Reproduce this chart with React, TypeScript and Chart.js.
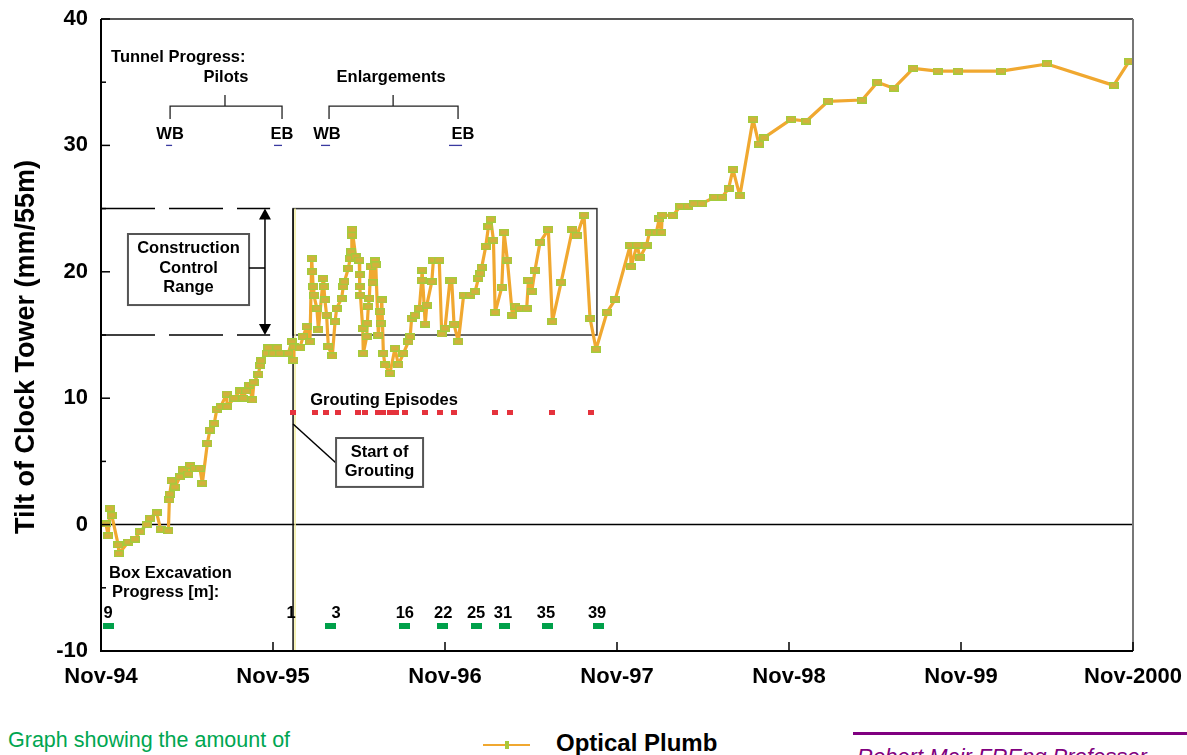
import React, { useEffect, useRef } from 'react';
import { Chart, registerables } from 'chart.js';

Chart.register(...registerables);

const FONT = '"Liberation Sans", Arial, Helvetica, sans-serif';

// x axis: months after Nov-94
const xTickLabels = ['Nov-94', 'Nov-95', 'Nov-96', 'Nov-97', 'Nov-98', 'Nov-99', 'Nov-2000'];
const yTitle = 'Tilt of Clock Tower (mm/55m)';

const plumbMonths = [
  0.35, 0.5, 0.63, 0.75, 1.2, 1.25, 1.9, 2.37, 2.72, 3.19,
  3.41, 3.88, 4.16, 4.7, 4.77, 4.8, 4.93, 5.16, 5.51, 5.7,
  6.09, 6.2, 6.55, 6.9, 7.07, 7.42, 7.6, 7.9, 8.07, 8.35,
  8.77, 8.8, 9.28, 9.7, 9.93, 10.12, 10.35, 10.56, 10.67, 10.98,
  11.1, 11.15, 11.56, 11.68, 12.02, 12.3, 12.49, 13.07, 13.3, 13.42,
  13.45, 13.88, 14.1, 14.35, 14.58, 14.7, 14.75, 14.8, 14.85, 15.06,
  15.17, 15.5, 15.55, 15.62, 15.74, 15.86, 16.14, 16.33, 16.44, 16.79,
  16.9, 16.98, 17.26, 17.38, 17.45, 17.5, 17.52, 17.77, 18.02, 18.04,
  18.06, 18.1, 18.26, 18.3, 18.54, 18.58, 18.65, 18.72, 18.82, 18.96,
  19.12, 19.17, 19.35, 19.47, 19.5, 19.59, 19.7, 19.81, 20.16, 20.51,
  20.75, 21.1, 21.45, 21.57, 21.67, 21.91, 22.21, 22.37, 22.4, 22.62,
  22.73, 23.08, 23.19, 23.6, 23.77, 24.0, 24.35, 24.47, 24.63, 24.93,
  25.3, 25.75, 26.1, 26.33, 26.45, 26.56, 26.84, 27.03, 27.19, 27.38,
  27.5, 27.96, 28.12, 28.35, 28.7, 28.9, 29.23, 29.7, 29.82, 30.05,
  30.28, 30.63, 31.21, 31.49, 32.1, 32.89, 33.2, 33.7, 34.12, 34.54,
  35.3, 35.88, 36.93, 36.98, 37.4, 37.6, 38.06, 38.27, 38.75, 38.94,
  39.1, 39.15, 39.88, 40.43, 40.96, 41.37, 41.91, 42.8, 43.33, 43.79,
  44.09, 44.57, 45.49, 45.9, 46.27, 48.14, 49.22, 50.72, 53.1, 54.17,
  55.3, 56.67, 58.37, 59.8, 62.8, 66.0, 70.65, 71.73,
];

const plumbTilt = [
  0.05, -0.9, 1.3, 0.74, -1.6, -2.3, -1.38, -1.14, -0.56, 0.0,
  0.5, 0.94, -0.37, -0.5, 1.95, 2.42, 3.47, 2.97, 3.79, 4.32,
  4.0, 4.7, 4.45, 4.45, 3.27, 6.43, 7.48, 8.0, 9.07, 9.33,
  10.33, 9.33, 10.0, 10.57, 10.0, 10.57, 11.04, 9.86, 11.26, 11.9,
  12.6, 12.97, 13.55, 14.0, 13.55, 14.0, 13.55, 13.55, 14.47, 13.0,
  14.07, 14.0, 14.87, 15.66, 14.47, 21.07, 20.0, 18.82, 18.16, 17.11,
  15.4, 19.48, 18.82, 17.77, 16.58, 14.07, 13.34, 16.05, 17.11, 17.9,
  18.82, 19.22, 20.28, 21.07, 21.59, 22.91, 23.36, 21.2, 20.93, 19.75,
  18.82, 18.16, 15.53, 13.55, 14.87, 15.93, 17.24, 17.9, 20.4, 19.14,
  20.88, 20.54, 15.0, 16.84, 15.93, 17.77, 13.55, 12.63, 11.97, 13.95,
  12.63, 13.55, 14.47, 14.87, 16.32, 16.58, 17.11, 19.35, 20.14, 15.87,
  17.37, 19.22, 20.93, 20.93, 15.08, 15.53, 19.35, 19.3, 15.85, 14.47,
  18.16, 18.16, 18.43, 19.48, 19.88, 20.35, 21.98, 23.57, 24.15, 22.5,
  16.79, 18.77, 23.12, 20.93, 16.58, 17.29, 17.11, 17.11, 19.35, 18.43,
  20.14, 22.33, 23.36, 16.05, 19.17, 23.36, 22.86, 24.49, 16.32, 13.87,
  16.79, 17.82, 22.12, 20.4, 22.12, 21.12, 22.12, 23.12, 23.12, 24.18,
  23.12, 24.49, 24.44, 25.18, 25.18, 25.39, 25.39, 25.9, 25.9, 26.6,
  28.1, 26.0, 32.06, 30.1, 30.61, 32.06, 31.93, 33.49, 33.59, 34.99,
  34.52, 36.1, 35.88, 35.88, 35.88, 36.44, 34.75, 36.65,
];

const groutingMonths = [13.4, 14.93, 15.7, 16.54, 17.93, 18.42, 19.33, 19.68, 20.17, 20.59, 21.21, 22.61, 23.66, 24.63, 27.5, 28.54, 31.47, 34.19];
const groutingLevel = 8.9;

const excavationMonths = [0.49, 15.98, 21.14, 23.8, 26.17, 28.12, 31.12, 34.68];
const excavationLevel = -8.0;
const excavationLabelMonths = [0.49, 13.26, 16.4, 21.2, 23.87, 26.17, 28.05, 31.05, 34.61];
const excavationLabels = ['9', '1', '3', '16', '22', '25', '31', '35', '39'];

const controlRange = [15, 25];
const groutingStartMonth = 13.4;
const controlBoxEndMonth = 34.6;

function rectImage(w: number, h: number, fill: string, stroke?: string, lw = 1) {
  const c = document.createElement('canvas');
  c.width = w;
  c.height = h;
  const g = c.getContext('2d')!;
  g.fillStyle = stroke || fill;
  g.fillRect(0, 0, w, h);
  if (stroke) {
    g.fillStyle = fill;
    g.fillRect(lw, lw, w - 2 * lw, h - 2 * lw);
  }
  return c;
}

const annotPlugin = {
  id: 'annot',
  beforeDatasetsDraw(chart: any) {
    const { ctx, scales, chartArea: a } = chart;
    const X = (m: number) => scales.x.getPixelForValue(m);
    const Y = (v: number) => scales.y.getPixelForValue(v);
    ctx.save();
    // zero line
    ctx.strokeStyle = '#000';
    ctx.lineWidth = 1.5;
    ctx.beginPath();
    ctx.moveTo(a.left, Y(0));
    ctx.lineTo(a.right, Y(0));
    ctx.stroke();

    // dashed control range lines
    ctx.setLineDash([54, 14]);
    ctx.lineWidth = 1.5;
    for (const v of controlRange) {
      ctx.beginPath();
      ctx.moveTo(a.left, Y(v));
      ctx.lineTo(X(11.8), Y(v));
      ctx.stroke();
    }
    ctx.setLineDash([]);

    // control box
    ctx.strokeStyle = '#333';
    ctx.lineWidth = 1.5;
    ctx.strokeRect(X(groutingStartMonth), Y(controlRange[1]), X(controlBoxEndMonth) - X(groutingStartMonth), Y(controlRange[0]) - Y(controlRange[1]));

    // start of grouting vertical line
    ctx.strokeStyle = '#f3eea0';
    ctx.lineWidth = 1.5;
    ctx.beginPath();
    ctx.moveTo(X(groutingStartMonth) + 2, Y(controlRange[1]));
    ctx.lineTo(X(groutingStartMonth) + 2, a.bottom);
    ctx.stroke();
    ctx.strokeStyle = '#111';
    ctx.beginPath();
    ctx.moveTo(X(groutingStartMonth), Y(controlRange[1]));
    ctx.lineTo(X(groutingStartMonth), a.bottom);
    ctx.stroke();
    ctx.restore();
  },
  afterDatasetsDraw(chart: any) {
    const { ctx, scales, chartArea: a } = chart;
    const X = (m: number) => scales.x.getPixelForValue(m);
    const Y = (v: number) => scales.y.getPixelForValue(v);
    ctx.save();
    ctx.fillStyle = '#000';
    ctx.textBaseline = 'middle';

    // y axis title
    ctx.save();
    ctx.font = `bold 27px ${FONT}`;
    ctx.textAlign = 'center';
    ctx.translate(27, (a.top + a.bottom) / 2 + 12);
    ctx.rotate(-Math.PI / 2);
    ctx.fillText(yTitle, 0, 0);
    ctx.restore();

    ctx.font = `bold 16.5px ${FONT}`;

    // Tunnel progress
    ctx.textAlign = 'left';
    ctx.fillText('Tunnel Progress:', X(0.7), Y(36.99));
    ctx.textAlign = 'center';
    ctx.fillText('Pilots', X(8.72), Y(35.4));
    ctx.fillText('Enlargements', X(20.24), Y(35.4));
    ctx.fillText('WB', X(4.82), Y(30.9));
    ctx.fillText('EB', X(12.63), Y(30.9));
    ctx.fillText('WB', X(15.77), Y(30.9));
    ctx.fillText('EB', X(25.26), Y(30.9));

    const bracket = (m1: number, m2: number, mc: number) => {
      ctx.strokeStyle = '#222';
      ctx.lineWidth = 1.3;
      ctx.beginPath();
      ctx.moveTo(X(m1), Y(32.09));
      ctx.lineTo(X(m1), Y(33.11));
      ctx.lineTo(X(m2), Y(33.11));
      ctx.lineTo(X(m2), Y(32.09));
      ctx.moveTo(X(mc), Y(33.11));
      ctx.lineTo(X(mc), Y(33.98));
      ctx.stroke();
    };
    bracket(4.82, 12.63, 8.65);
    bracket(15.91, 24.91, 20.38);

    ctx.strokeStyle = '#3a3aa0';
    ctx.lineWidth = 1.3;
    for (const [m1, m2] of [[4.54, 4.96], [12.07, 12.63], [15.35, 15.98], [24.28, 25.19]]) {
      ctx.beginPath();
      ctx.moveTo(X(m1), Y(30));
      ctx.lineTo(X(m2), Y(30));
      ctx.stroke();
    }

    // Construction control range arrow
    const ax = X(11.44);
    ctx.strokeStyle = '#000';
    ctx.lineWidth = 1.5;
    ctx.beginPath();
    ctx.moveTo(ax, Y(controlRange[1]) + 8);
    ctx.lineTo(ax, Y(controlRange[0]) - 8);
    ctx.stroke();
    ctx.beginPath();
    ctx.moveTo(ax, Y(controlRange[1]));
    ctx.lineTo(ax - 6, Y(controlRange[1]) + 11);
    ctx.lineTo(ax + 6, Y(controlRange[1]) + 11);
    ctx.closePath();
    ctx.fill();
    ctx.beginPath();
    ctx.moveTo(ax, Y(controlRange[0]));
    ctx.lineTo(ax - 6, Y(controlRange[0]) - 11);
    ctx.lineTo(ax + 6, Y(controlRange[0]) - 11);
    ctx.closePath();
    ctx.fill();

    // Construction control range box
    const bx1 = X(1.88), bx2 = X(10.33), by1 = Y(22.99), by2 = Y(17.37);
    ctx.fillStyle = '#fff';
    ctx.fillRect(bx1, by1, bx2 - bx1, by2 - by1);
    ctx.strokeStyle = '#555';
    ctx.lineWidth = 2;
    ctx.strokeRect(bx1, by1, bx2 - bx1, by2 - by1);
    ctx.strokeStyle = '#000';
    ctx.lineWidth = 1.5;
    ctx.beginPath();
    ctx.moveTo(bx2, Y(20.3));
    ctx.lineTo(ax, Y(20.3));
    ctx.stroke();
    ctx.fillStyle = '#000';
    ctx.textAlign = 'center';
    const bcx = (bx1 + bx2) / 2;
    ctx.fillText('Construction', bcx, Y(21.81));
    ctx.fillText('Control', bcx, Y(20.3));
    ctx.fillText('Range', bcx, Y(18.8));

    // Grouting episodes
    ctx.fillText('Grouting Episodes', X(19.75), Y(9.86));

    // Start of grouting box
    ctx.strokeStyle = '#000';
    ctx.lineWidth = 1.5;
    ctx.beginPath();
    ctx.moveTo(X(groutingStartMonth), Y(7.96));
    ctx.lineTo(X(16.4), Y(4.87));
    ctx.stroke();
    const sx1 = X(16.4), sx2 = X(22.47), sy1 = Y(6.85), sy2 = Y(2.98);
    ctx.fillStyle = '#fff';
    ctx.fillRect(sx1, sy1, sx2 - sx1, sy2 - sy1);
    ctx.strokeStyle = '#555';
    ctx.lineWidth = 2;
    ctx.strokeRect(sx1, sy1, sx2 - sx1, sy2 - sy1);
    ctx.fillStyle = '#000';
    ctx.fillText('Start of', (sx1 + sx2) / 2, Y(5.74));
    ctx.fillText('Grouting', (sx1 + sx2) / 2, Y(4.24));

    // Box excavation
    ctx.textAlign = 'left';
    ctx.fillText('Box Excavation', X(0.56), Y(-3.83));
    ctx.fillText('Progress [m]:', X(0.77), Y(-5.33));
    ctx.textAlign = 'center';
    excavationLabelMonths.forEach((m, i) => {
      ctx.fillText(excavationLabels[i], X(m), Y(-7.0));
    });

    // frame
    ctx.lineWidth = 2;
    ctx.strokeStyle = '#555';
    ctx.beginPath();
    ctx.moveTo(a.left, a.top);
    ctx.lineTo(a.right, a.top);
    ctx.stroke();
    ctx.strokeStyle = '#777';
    ctx.beginPath();
    ctx.moveTo(a.right, a.top);
    ctx.lineTo(a.right, a.bottom);
    ctx.stroke();
    ctx.strokeStyle = '#000';
    ctx.beginPath();
    ctx.moveTo(a.left, a.top);
    ctx.lineTo(a.left, a.bottom);
    ctx.lineTo(a.right, a.bottom);
    ctx.stroke();

    // inward ticks
    ctx.lineWidth = 1.5;
    for (let v = -10; v <= 40; v += 5) {
      const len = v % 10 === 0 ? 9 : 5;
      ctx.beginPath();
      ctx.moveTo(a.left, Y(v));
      ctx.lineTo(a.left + len, Y(v));
      ctx.stroke();
    }
    for (let m = 0; m <= 72; m += 12) {
      ctx.beginPath();
      ctx.moveTo(X(m), a.bottom);
      ctx.lineTo(X(m), a.bottom - 9);
      ctx.stroke();
    }
    ctx.restore();
  },
};

export default function App() {
  const ref = useRef<HTMLCanvasElement>(null);

  useEffect(() => {
    const canvas = ref.current!;
    const plumbMarker = rectImage(10, 7, '#d4b03c', '#a3cc3c', 1.3);
    const groutMarker = rectImage(6, 5, '#e5323c');
    const excavMarker = rectImage(11, 6, '#00a04a');

    const chart = new Chart(canvas, {
      type: 'line',
      data: {
        datasets: [
          {
            label: 'Grouting Episodes',
            data: groutingMonths.map((m) => ({ x: m, y: groutingLevel })),
            showLine: false,
            pointStyle: groutMarker as any,
            pointRadius: 3,
          },
          {
            label: 'Box Excavation',
            data: excavationMonths.map((m) => ({ x: m, y: excavationLevel })),
            showLine: false,
            pointStyle: excavMarker as any,
            pointRadius: 5,
          },
          {
            label: 'Optical Plumb',
            data: plumbMonths.map((m, i) => ({ x: m, y: plumbTilt[i] })),
            borderColor: '#f0a830',
            backgroundColor: '#f0a830',
            borderWidth: 3.2,
            borderJoinStyle: 'round',
            borderCapStyle: 'round',
            tension: 0,
            pointStyle: plumbMarker as any,
            pointRadius: 5,
          },
        ],
      },
      options: {
        responsive: false,
        animation: false,
        devicePixelRatio: 1,
        layout: { padding: { left: 0, top: 19, right: 54, bottom: 0 } },
        plugins: { legend: { display: false }, tooltip: { enabled: false } },
        scales: {
          x: {
            type: 'linear',
            min: 0,
            max: 72,
            grid: { display: false, drawTicks: false },
            border: { display: false },
            afterFit: (s: any) => {
              s.height = 49;
              s.paddingLeft = 0;
              s.paddingRight = 0;
            },
            ticks: {
              stepSize: 12,
              autoSkip: false,
              maxRotation: 0,
              padding: 13,
              color: '#000',
              font: { family: FONT, size: 22, weight: 'bold' },
              callback: (v: any) => xTickLabels[Math.round(Number(v) / 12)] ?? '',
            },
          },
          y: {
            min: -10,
            max: 40,
            grid: { display: false, drawTicks: false },
            border: { display: false },
            afterFit: (s: any) => {
              s.width = 101;
              s.paddingTop = 0;
              s.paddingBottom = 0;
            },
            ticks: {
              stepSize: 10,
              padding: 13,
              color: '#000',
              font: { family: FONT, size: 22, weight: 'bold' },
            },
          },
        },
      } as any,
      plugins: [annotPlugin],
    });
    return () => chart.destroy();
  }, []);

  return (
    <div style={{ position: 'fixed', left: 0, top: 0, width: 1187, height: 755, overflow: 'hidden', background: '#fff', fontFamily: FONT }}>
      <canvas ref={ref} width={1187} height={700} style={{ position: 'absolute', left: 0, top: 0, width: 1187, height: 700 }} />
      <div style={{ position: 'absolute', left: 8, top: 730, fontSize: 21.5, lineHeight: '21.5px', color: '#00a651', whiteSpace: 'nowrap' }}>
        Graph showing the amount of
      </div>
      <div style={{ position: 'absolute', left: 483, top: 744, width: 47, height: 2, background: '#f0a830' }} />
      <div style={{ position: 'absolute', left: 505, top: 741, width: 4, height: 8, background: '#a8c83a' }} />
      <div style={{ position: 'absolute', left: 556, top: 731, fontSize: 24, lineHeight: '24px', fontWeight: 'bold', color: '#000', whiteSpace: 'nowrap' }}>
        Optical Plumb
      </div>
      <div style={{ position: 'absolute', left: 853, top: 732, width: 334, height: 3, background: '#800080' }} />
      <div style={{ position: 'absolute', left: 857, top: 746, fontSize: 22, lineHeight: '22px', fontStyle: 'italic', color: '#800080', whiteSpace: 'nowrap' }}>
        Robert Mair FREng Professor
      </div>
    </div>
  );
}
